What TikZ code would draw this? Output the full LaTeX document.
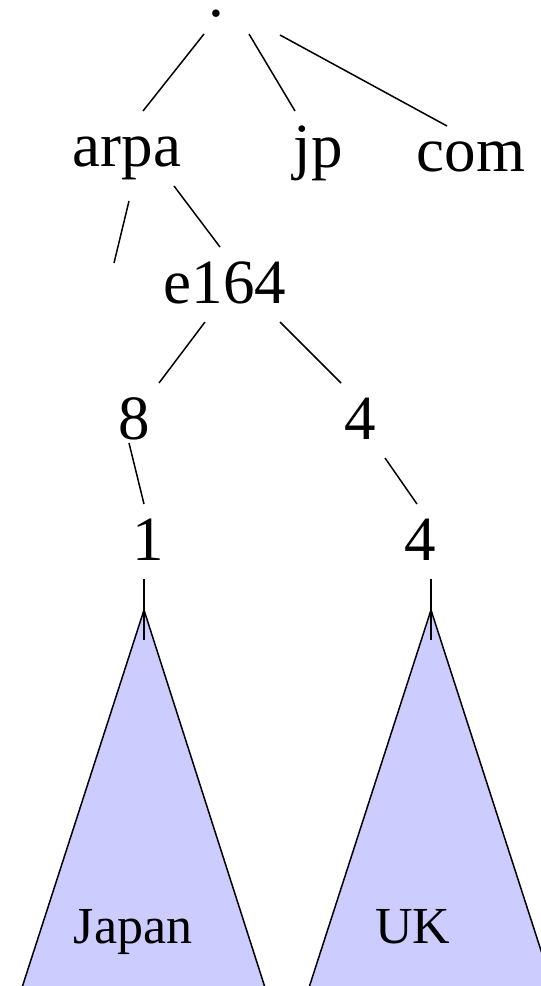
\documentclass[tikz,border=0pt]{standalone}
\usepackage{fontspec}
\setmainfont{Liberation Serif}
\definecolor{treefill}{RGB}{204,204,255}
\tikzset{
  lbl/.style={anchor=base, inner sep=0pt, font=\fontsize{63}{70}\selectfont},
  small/.style={anchor=base, inner sep=0pt, font=\fontsize{52}{58}\selectfont},
  edge/.style={draw=black, line width=1.5pt},
  subtree/.style={fill=treefill, draw=black, line width=1.5pt}
}
\begin{document}
\begin{tikzpicture}[x=1pt, y=-1pt]
\useasboundingbox (0,0) rectangle (541,986);
% subtrees
\begin{scope}
  \clip (0,0) rectangle (541,986);
  \path[subtree] (144,610) coordinate (japtop) -- (18,1000) -- (269,1000) -- cycle;
  \path[subtree] (431,610) coordinate (uktop) -- (305,1000) -- (557,1000) -- cycle;
\end{scope}
% nodes
\node[lbl, text height=8pt, text depth=0pt] (root) at (216,16.5) {.};
\node[lbl] (arpa) at (127,166) {arpa};
\node[lbl] (jp) at (318,167) {jp};
\node[lbl] (com) at (471,171) {com};
\node[lbl] (e164) at (225,303) {e164};
\node[lbl] (eight) at (134.5,439) {8};
\node[lbl] (four) at (360,439) {4};
\node[lbl] (one) at (148.5,560) {1};
\node[lbl] (fourb) at (420,560) {4};
\node[small] (japan) at (133,943) {Japan};
\node[small] (uk) at (413,943) {UK};
\coordinate (stub) at (114,263);
% connectors
\draw[edge] ([shift={(-12,17.5)}]root.base) -- ([shift={(16,-55)}]arpa.base);
\draw[edge] ([shift={(33,17.5)}]root.base) -- ([shift={(-23,-56)}]jp.base);
\draw[edge] ([shift={(64,18.5)}]root.base) -- ([shift={(-24,-45)}]com.base);
\draw[edge] ([shift={(2,35)}]arpa.base) -- (stub);
\draw[edge] ([shift={(47,20)}]arpa.base) -- ([shift={(-5,-56)}]e164.base);
\draw[edge] ([shift={(-20,19)}]e164.base) -- ([shift={(24.5,-56)}]eight.base);
\draw[edge] ([shift={(55,19)}]e164.base) -- ([shift={(-19,-56)}]four.base);
\draw[edge] ([shift={(-5.5,4)}]eight.base) -- ([shift={(-4.5,-56)}]one.base);
\draw[edge] ([shift={(25,19)}]four.base) -- ([shift={(-3,-56)}]fourb.base);
\draw[edge] ([shift={(-4.5,19)}]one.base) -- ([shift={(0,30)}]japtop);
\draw[edge] ([shift={(11,19)}]fourb.base) -- ([shift={(0,30)}]uktop);
\end{tikzpicture}
\end{document}
